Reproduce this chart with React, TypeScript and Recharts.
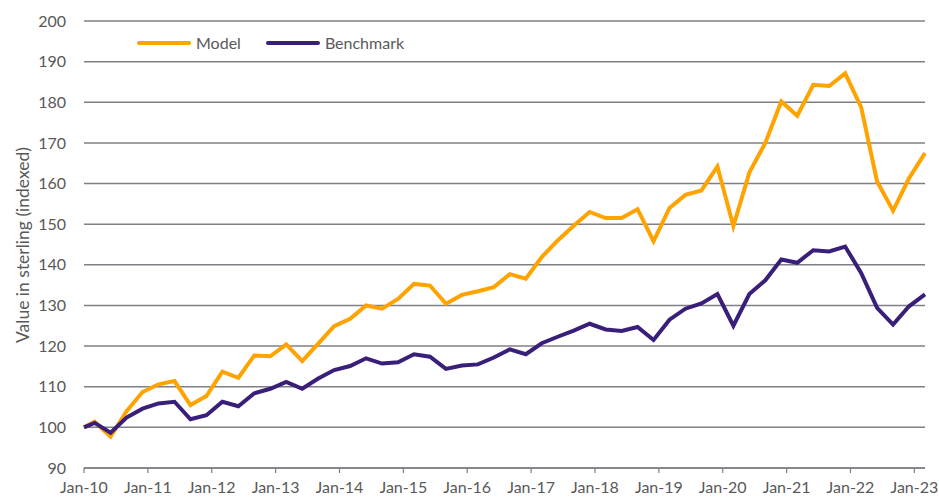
import { LineChart, Line, XAxis, YAxis, CartesianGrid, Legend } from "recharts";

// months since Jan-10 for each quarter-end observation
const MONTHS = [
  0, 2, 5, 8, 11, 14, 17, 20, 23, 26, 29, 32, 35, 38, 41, 44, 47, 50, 53, 56,
  59, 62, 65, 68, 71, 74, 77, 80, 83, 86, 89, 92, 95, 98, 101, 104, 107, 110,
  113, 116, 119, 122, 125, 128, 131, 134, 137, 140, 143, 146, 149, 152, 155, 158,
];

const MODEL = [
  100, 101.4, 97.7, 104, 108.7, 110.6, 111.4, 105.5, 107.7, 113.7, 112.2, 117.7,
  117.5, 120.4, 116.3, 120.6, 124.9, 126.7, 130, 129.2, 131.6, 135.3, 134.9,
  130.4, 132.6, 133.5, 134.5, 137.7, 136.6, 141.9, 146, 149.6, 153, 151.5,
  151.5, 153.7, 145.8, 154, 157.2, 158.3, 164.2, 149.5, 162.7, 170, 180.2,
  176.7, 184.3, 184, 187.1, 178.8, 160.5, 153.3, 161.3, 167.5,
];

const BENCHMARK = [
  100, 101.1, 98.7, 102.4, 104.6, 105.9, 106.3, 102, 103, 106.3, 105.2, 108.4,
  109.5, 111.2, 109.5, 112, 114.1, 115.1, 117, 115.7, 116, 118, 117.4, 114.4,
  115.2, 115.5, 117.2, 119.2, 118, 120.7, 122.3, 123.8, 125.5, 124.1, 123.7,
  124.7, 121.5, 126.5, 129.2, 130.5, 132.8, 125, 132.8, 136.2, 141.3, 140.5,
  143.6, 143.3, 144.5, 138, 129.4, 125.3, 129.8, 132.7,
];

const X_TICKS = [0, 12, 24, 36, 48, 60, 72, 84, 96, 108, 120, 132, 144, 156];
const X_LABELS = [
  "Jan-10", "Jan-11", "Jan-12", "Jan-13", "Jan-14", "Jan-15", "Jan-16",
  "Jan-17", "Jan-18", "Jan-19", "Jan-20", "Jan-21", "Jan-22", "Jan-23",
];
const Y_TICKS = [90, 100, 110, 120, 130, 140, 150, 160, 170, 180, 190, 200];
const SERIES_ORDER = ["Model", "Benchmark"];

const data = MONTHS.map((m, i) => ({
  m,
  model: MODEL[i],
  benchmark: BENCHMARK[i],
}));

const FONT = "Lato, 'Open Sans', sans-serif";
const TEXT = "#595959";
const GRID = "#7f7f86";

function LegendBox(props: any) {
  const items = [...(props.payload || [])].sort(
    (a: any, b: any) => SERIES_ORDER.indexOf(a.value) - SERIES_ORDER.indexOf(b.value)
  );
  return (
    <div
      style={{
        display: "flex",
        fontFamily: FONT,
        fontSize: 16,
        color: TEXT,
        lineHeight: "20px",
      }}
    >
      {items.map((p: any) => (
        <div
          key={p.value}
          style={{ display: "flex", alignItems: "center", marginRight: 25 }}
        >
          <svg width={54} height={6} style={{ marginRight: 5 }}>
            <line
              x1={2}
              y1={3}
              x2={52}
              y2={3}
              stroke={p.color}
              strokeWidth={4}
              strokeLinecap="round"
            />
          </svg>
          <span>{p.value}</span>
        </div>
      ))}
    </div>
  );
}

export default function App() {
  return (
    <div style={{ position: "absolute", left: 0, top: 0, background: "#fff" }}>
      <LineChart
        width={939}
        height={500}
        data={data}
        margin={{ top: 21, right: 14, bottom: 0, left: 0 }}
      >
        <CartesianGrid
          vertical={false}
          stroke={GRID}
          strokeWidth={1.5}
          strokeDasharray=""
        />
        <XAxis
          dataKey="m"
          type="number"
          domain={[0, 158]}
          ticks={X_TICKS}
          tickFormatter={(v: number) => X_LABELS[X_TICKS.indexOf(v)]}
          interval={0}
          axisLine={{ stroke: GRID, strokeWidth: 1.5 }}
          tickLine={{ stroke: GRID, strokeWidth: 1.2 }}
          tickSize={5}
          tickMargin={9}
          tick={{ fill: TEXT, fontSize: 16, fontFamily: FONT }}
          height={32}
        />
        <YAxis
          domain={[90, 200]}
          ticks={Y_TICKS}
          interval={0}
          width={84}
          axisLine={false}
          tickLine={false}
          tickMargin={12}
          tick={{ fill: TEXT, fontSize: 16, fontFamily: FONT }}
          label={{
            content: () => (
              <text
                x={22}
                y={245}
                transform="rotate(-90 22 245)"
                textAnchor="middle"
                dominantBaseline="central"
                fill={TEXT}
                fontSize={17.5}
                fontFamily={FONT}
              >
                Value in sterling (indexed)
              </text>
            ),
          }}
        />
        <Legend
          verticalAlign="middle"
          align="center"
          layout="horizontal"
          content={<LegendBox />}
          wrapperStyle={{ top: 33, left: 137, width: "auto", height: 20 }}
        />
        <Line
          dataKey="model"
          name="Model"
          stroke="#FFA300"
          strokeWidth={4}
          dot={false}
          isAnimationActive={false}
          strokeLinejoin="miter"
        />
        <Line
          dataKey="benchmark"
          name="Benchmark"
          stroke="#3a1f7a"
          strokeWidth={4}
          dot={false}
          isAnimationActive={false}
          strokeLinejoin="miter"
        />
      </LineChart>
    </div>
  );
}
